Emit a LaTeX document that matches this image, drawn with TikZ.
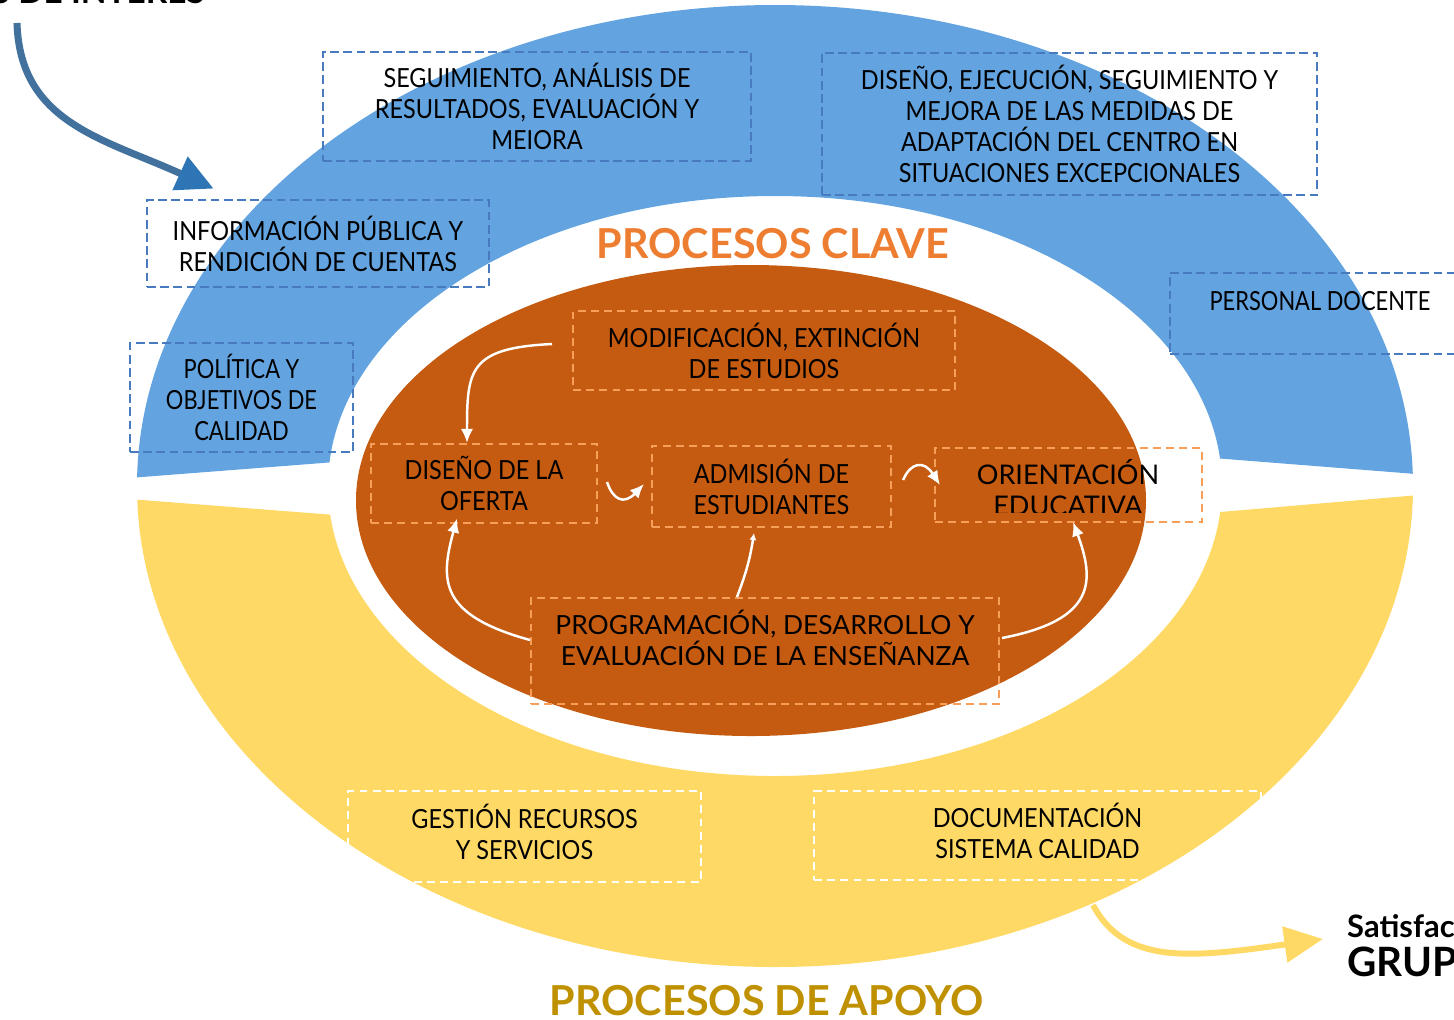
\documentclass[tikz,border=0pt]{standalone}
\usepackage{fontspec}
\setmainfont{Lato}
\newfontfamily\estrecha{Lato}[FakeStretch=0.89]
\newfontfamily\muyestrecha{Lato}[FakeStretch=0.83]
\usetikzlibrary{arrows.meta,calc}

\definecolor{azulanillo}{RGB}{99,164,224}
\definecolor{amarilloanillo}{RGB}{255,217,102}
\definecolor{naranjaelipse}{RGB}{197,90,17}
\definecolor{bordeazul}{RGB}{72,122,192}
\definecolor{bordenaranja}{RGB}{247,158,88}
\definecolor{naranjatitulo}{RGB}{237,125,49}
\definecolor{oroapoyo}{RGB}{191,144,0}
\definecolor{azulflecha}{RGB}{65,113,156}
\definecolor{azulpunta}{RGB}{46,117,182}

\begin{document}
\begin{tikzpicture}[x=0.02cm, y=-0.02cm,
  caja/.style={draw, line width=1.6pt, dash pattern=on 5pt off 2.5pt, inner sep=0pt,
    align=center, font={\estrecha\fontsize{15}{17.6}\selectfont}},
  cajaazul/.style={caja, draw=bordeazul},
  cajanaranja/.style={caja, draw=bordenaranja, line width=1.2pt, dash pattern=on 4.5pt off 3pt},
  cajaamarilla/.style={caja, draw=white, line width=1.2pt, dash pattern=on 4.5pt off 3pt},
  ancha/.style={font=\fontsize{15}{17.6}\selectfont},
  angosta/.style={font={\muyestrecha\fontsize{15}{17.6}\selectfont}},
  texto/.style={align=center, inner sep=0pt, font=\fontsize{15.4}{17.6}\selectfont},
  titulo/.style={anchor=base, font=\fontsize{23.5}{27}\selectfont\bfseries},
  flecha/.style={white, line width=1.4pt, -{Latex[length=8pt,width=7pt]}}]

\useasboundingbox (0,0) rectangle (1454,1019);
\clip (0,0) rectangle (1454,1019);

% anillo azul (parte superior)
\begin{scope}
  \clip (0,0) -- (1454,0) -- (1454,477) -- (1150,453) -- (400,457) -- (0,488) -- cycle;
  \fill[azulanillo, even odd rule] (775,486) ellipse [x radius=638, y radius=481]
    (775,486) ellipse [x radius=447, y radius=290];
\end{scope}

% anillo amarillo (parte inferior)
\begin{scope}
  \clip (0,489) -- (400,520) -- (1150,518) -- (1454,492) -- (1454,1019) -- (0,1019) -- cycle;
  \fill[amarilloanillo, even odd rule] (775,486) ellipse [x radius=638, y radius=481]
    (775,486) ellipse [x radius=447, y radius=290];
\end{scope}

% elipse central
\fill[naranjaelipse] (751,500.5) ellipse [x radius=395, y radius=235.5];

% textos cortados en los bordes
\node[anchor=base east, font=\fontsize{19}{22}\selectfont\bfseries] (gruposini) at (211,3) {GRUPOS DE INTERÉS};
\node[anchor=base west, font=\fontsize{17.6}{20}\selectfont\bfseries] (satisf) at (1341,937) {Satisfacción};
\node[anchor=base west, font=\fontsize{23}{24}\selectfont\bfseries] (gruposfin) at (1341,976) {GRUPOS DE INTERÉS};

% procesos estrategicos
\node[cajaazul, minimum width=8.56cm, minimum height=2.18cm] (seguimiento) at (537,106.5)
  {SEGUIMIENTO, ANÁLISIS DE\\RESULTADOS, EVALUACIÓN Y\\MEIORA};
\node[cajaazul, minimum width=9.9cm, minimum height=2.84cm] (medidas) at (1069.5,124)
  {DISEÑO, EJECUCIÓN, SEGUIMIENTO Y\\MEJORA DE LAS MEDIDAS DE\\ADAPTACIÓN DEL CENTRO EN\\SITUACIONES EXCEPCIONALES};
\node[cajaazul, minimum width=6.84cm, minimum height=1.74cm] (info) at (318,243.5)
  {INFORMACIÓN PÚBLICA Y\\RENDICIÓN DE CUENTAS};
\node[cajaazul, angosta, minimum width=4.46cm, minimum height=2.18cm] (politica) at (241.5,397.5)
  {POLÍTICA Y\\OBJETIVOS DE\\CALIDAD};
\node[cajaazul, angosta, minimum width=6cm, minimum height=1.62cm] (personal) at (1320,313.5)
  {PERSONAL DOCENTE\\[-3pt]\mbox{}};

% procesos clave
\node[titulo, text=naranjatitulo] (clave) at (773,258) {PROCESOS CLAVE};
\node[cajanaranja, minimum width=7.64cm, minimum height=1.58cm] (modif) at (764,350.5)
  {MODIFICACIÓN, EXTINCIÓN\\DE ESTUDIOS};
\node[cajanaranja, minimum width=4.52cm, minimum height=1.58cm] (oferta) at (484,483.5)
  {DISEÑO DE LA\\OFERTA};
\node[cajanaranja, minimum width=4.78cm, minimum height=1.62cm] (admision) at (771.5,486.5)
  {ADMISIÓN DE\\ESTUDIANTES};
\node[cajanaranja, minimum width=5.34cm, minimum height=1.48cm] (orientacion) at (1068.5,485) {};
\begin{scope}
  \clip (930,440) rectangle (1210,512);
  \node[texto] (orientaciontxt) at (1068,488) {ORIENTACIÓN\\EDUCATIVA};
\end{scope}
\node[cajanaranja, ancha, minimum width=9.36cm, minimum height=2.12cm] (programacion) at (765,651)
  {PROGRAMACIÓN, DESARROLLO Y\\EVALUACIÓN DE LA ENSEÑANZA\\[-2.8pt]\mbox{}};

% procesos de apoyo
\node[cajaamarilla, minimum width=7.06cm, minimum height=1.82cm] (gestion) at (524.5,836.5)
  {GESTIÓN RECURSOS\\Y SERVICIOS\\[-11.9pt]\mbox{}};
\node[cajaamarilla, minimum width=8.94cm, minimum height=1.78cm] (documentacion) at (1037.5,835.5)
  {DOCUMENTACIÓN\\SISTEMA CALIDAD\\[-11.9pt]\mbox{}};
\node[titulo, text=oroapoyo] (apoyo) at (767,1015) {PROCESOS DE APOYO};

% flechas entre procesos clave
\draw[flecha] ($(modif.west)+(-20,-6.5)$) .. controls +(-83,4) and +(0,-73) .. ($(oferta.north)+(-17,0)$);
\draw[flecha] ($(oferta.east)+(9,-1.5)$) .. controls +(6,18) and +(-20,21) .. ($(admision.west)+(-7,-2.5)$);
\draw[flecha] ($(admision.east)+(11,-6.5)$) .. controls +(8,-18) and +(-16,-25) .. ($(orientacion.west)+(6,0)$);
\draw[flecha] ($(programacion.west)+(0,-11)$) .. controls +(-91,-25) and +(-17,62) .. ($(oferta.south)+(-27,-5.5)$);
\draw[flecha, -{Latex[length=4pt,width=4pt]}] ($(programacion.north)+(-28,0)$) to[bend right=6] ($(admision.south)+(-17.5,5)$);
\draw[flecha] ($(programacion.east)+(2,-13)$) .. controls +(94,-18) and +(22,59) .. ($(orientacion.south)+(4.5,-1)$);

% entrada y salida
\coordinate (origen) at (17,23);
\draw[azulflecha, line width=4pt, -{Triangle[length=21pt,width=20pt,color=azulpunta]}]
  (origen) .. controls +(3,100) and +(-110,-50) .. ($(info.north west)+(68,-10)$);
\coordinate (salida) at (1093,905);
\draw[amarilloanillo, line width=3.4pt, -{Triangle[length=22pt,width=20pt]}]
  (salida) .. controls +(32,60) and +(-133,19) .. ($(satisf.base west)+(-18,2)$);
\end{tikzpicture}
\end{document}
